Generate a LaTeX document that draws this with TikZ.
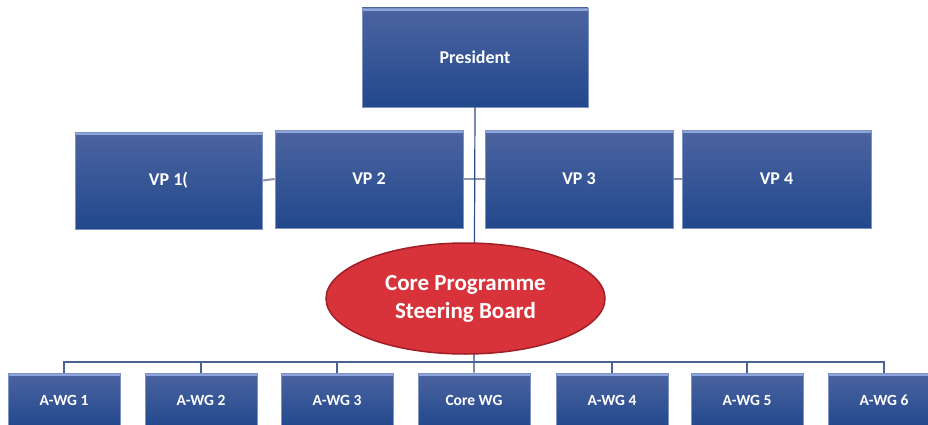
\documentclass[tikz,border=0pt]{standalone}
\usepackage{fontspec}
\setmainfont{Carlito}
\usetikzlibrary{shapes.geometric}
\definecolor{boxtop}{RGB}{76,100,160}
\definecolor{boxbot}{RGB}{34,72,140}
\definecolor{bevel}{RGB}{140,165,220}
\definecolor{boxedge}{RGB}{125,145,195}
\definecolor{ellred}{RGB}{216,51,59}
\definecolor{ellrim}{RGB}{160,30,38}
\definecolor{navyline}{RGB}{47,77,133}
\definecolor{grayline}{RGB}{136,148,168}
\definecolor{busline}{RGB}{74,99,148}
\tikzset{
  orgbox/.style={rectangle, draw=boxedge, line width=0.8pt, top color=boxtop, bottom color=boxbot,
    text=white, font=\bfseries\fontsize{18}{20}\selectfont, inner sep=0pt,
    path picture={\fill[bevel] (path picture bounding box.north west) rectangle ([yshift=-3pt]path picture bounding box.north east);}},
  wgbox/.style={orgbox, minimum width=112pt, minimum height=54pt, font=\bfseries\fontsize{15.5}{17}\selectfont},
  board/.style={ellipse, fill=ellred, draw=ellrim, line width=1.5pt, text=white, inner sep=0pt,
    minimum width=279pt, minimum height=111pt, align=center, font=\bfseries\fontsize{23}{28}\selectfont},
  presline/.style={draw=navyline, line width=1.2pt},
  vpline/.style={draw=grayline, line width=2pt},
  busl/.style={draw=busline, line width=1.2pt}
}
\begin{document}
\begin{tikzpicture}[x=1pt,y=-1pt]
\clip (0,0) rectangle (928,425);
\fill[white] (0,0) rectangle (928,425);
% nodes
\node[orgbox, minimum width=226pt, minimum height=99pt] (pres) at (475,57.5) {President};
\node[orgbox, minimum width=187pt, minimum height=97pt] (vp1) at (168.5,180.5) {VP 1(};
\node[orgbox, minimum width=188pt, minimum height=98pt] (vp2) at (369,179) {VP 2};
\node[orgbox, minimum width=188pt, minimum height=98pt] (vp3) at (579,179) {VP 3};
\node[orgbox, minimum width=189pt, minimum height=98pt] (vp4) at (776.5,179) {VP 4};
\node[wgbox] (w1) at (64,400) {A-WG 1};
\node[wgbox] (w2) at (201,400) {A-WG 2};
\node[wgbox] (w3) at (337,400) {A-WG 3};
\node[wgbox] (cwg) at (474,400) {Core WG};
\node[wgbox] (w4) at (612,400) {A-WG 4};
\node[wgbox] (w5) at (747,400) {A-WG 5};
\node[wgbox] (w6) at (884,400) {A-WG 6};
\coordinate (bus) at (474,362);
% connectors (behind ellipse)
\draw[vpline] (vp1.east) -- (vp2.west);
\draw[vpline] (vp2.east) -- (vp3.west);
\draw[vpline] (vp3.east) -- (vp4.west);
\draw[presline] (pres.south) -- (cwg.north);
\draw[busl] (bus) -| (w1.north);
\draw[busl] (bus) -| (w2.north);
\draw[busl] (bus) -| (w3.north);
\draw[busl] (bus) -| (w4.north);
\draw[busl] (bus) -| (w5.north);
\draw[busl] (bus) -| (w6.north);
\node[board] (cpsb) at (465.5,298.5) {Core Programme\\Steering Board};
\end{tikzpicture}
\end{document}
